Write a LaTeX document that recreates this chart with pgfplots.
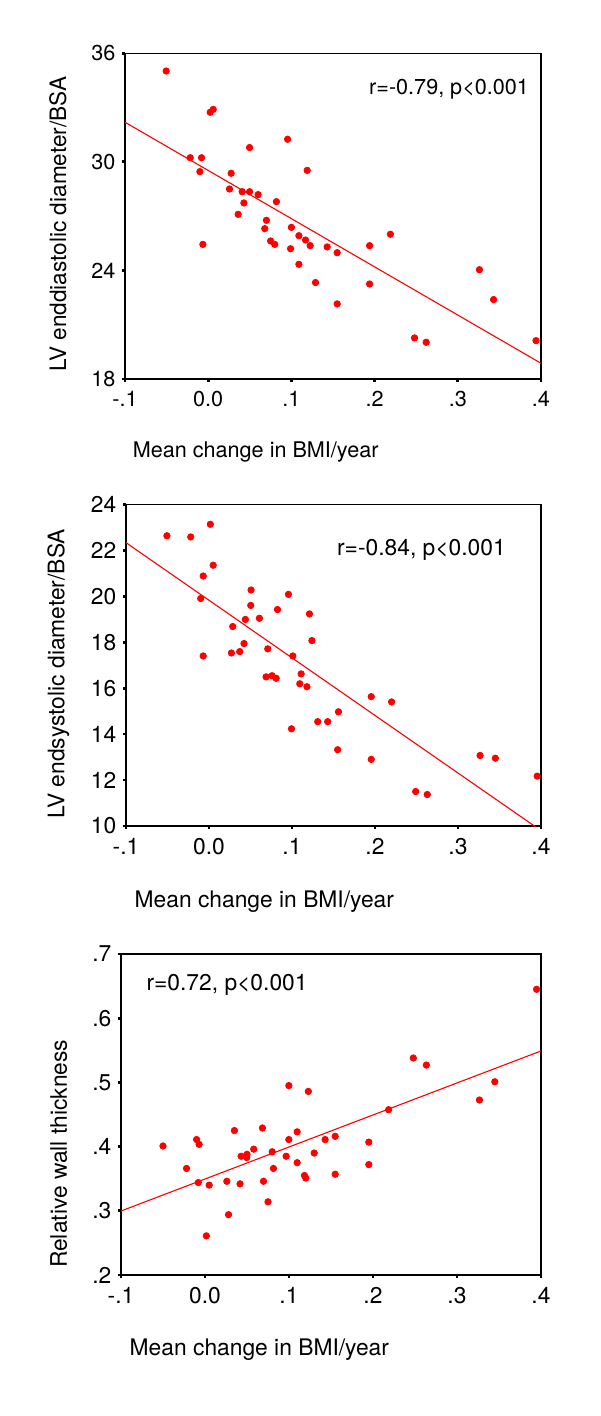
\documentclass[border=0pt]{standalone}
\usepackage{pgfplots}
\pgfplotsset{compat=1.18}
\usepackage{fontspec}
\setmainfont{TeX Gyre Heros}
\definecolor{pred}{RGB}{255,0,0}
\pgfplotsset{
  spss/.style={
    scale only axis,
    axis line style={black, line width=0.7pt},
    tick align=outside,
    xtick pos=left, ytick pos=left,
    major tick length=1.3pt,
    every tick/.style={black, line width=1.4pt},
    xmin=-0.1, xmax=0.4,
    xtick={-0.1,0,0.1,0.2,0.3,0.4},
    xticklabels={-.1,0.0,.1,.2,.3,.4},
    xticklabel style={yshift=-1.5pt},
    clip mode=individual,
    /pgf/number format/assume math mode=true,
  },
  dots/.style={only marks, mark=*, mark size=1.6pt, color=pred, mark options={draw=pred, fill=pred}},
  fit/.style={no marks, color=pred, line width=0.55pt},
}
\begin{document}
\begin{tikzpicture}
\useasboundingbox (0,0) rectangle (300pt,-708pt);

% Panel 1
\begin{axis}[spss,
  at={(62.5pt,-189.5pt)}, anchor=south west,
  width=208pt, height=162.85pt,
  font=\fontsize{10.8}{13}\selectfont,
  ymin=18, ymax=36, ytick={18,24,30,36}, yticklabels={18,24,30,36},
  xlabel={Mean change in BMI/year},
  xlabel style={at={(axis description cs:0.002,-0.223)}, anchor=west},
  ylabel={LV enddiastolic diameter/BSA},
  ylabel style={at={(axis description cs:-0.161,0)}, anchor=west, font=\fontsize{11.3}{13}\selectfont},
]
\addplot[dots] coordinates {
(-0.0505,35.02) (0.0024,32.74) (0.006,32.90) (-0.0216,30.23) (-0.008,30.23)
(-0.010,29.46) (0.0497,30.79) (0.0954,31.25) (0.119,29.53) (0.0276,29.37)
(0.0256,28.50) (0.0409,28.35) (0.0497,28.35) (0.060,28.19) (0.0429,27.73)
(0.082,27.80) (0.036,27.10) (-0.0064,25.44) (0.070,26.77) (0.068,26.31)
(0.100,26.38) (0.075,25.63) (0.080,25.44) (0.109,25.92) (0.117,25.68)
(0.1226,25.37) (0.099,25.20) (0.143,25.30) (0.155,24.98) (0.194,25.37)
(0.219,26.00) (0.109,24.34) (0.129,23.33) (0.194,23.25) (0.155,22.15)
(0.326,24.04) (0.343,22.39) (0.248,20.27) (0.262,20.03) (0.394,20.12)
};
\addplot[fit] coordinates {(-0.1,32.19) (0.4,18.87)};
\node[anchor=east, font=\fontsize{10.8}{13}\selectfont] at (rel axis cs:0.988,0.889) {r=-0.79, p<0.001};
\end{axis}

% Panel 2
\begin{axis}[spss,
  at={(63pt,-413pt)}, anchor=south west,
  width=207.5pt, height=160.85pt,
  font=\fontsize{11.4}{13}\selectfont,
  ymin=10, ymax=24, ytick={10,12,14,16,18,20,22,24}, yticklabels={10,12,14,16,18,20,22,24},
  xlabel={Mean change in BMI/year},
  xlabel style={at={(axis description cs:0.004,-0.235)}, anchor=west},
  ylabel={LV endsystolic diameter/BSA},
  ylabel style={at={(axis description cs:-0.163,0)}, anchor=west},
]
\addplot[dots] coordinates {
(-0.0507,22.63) (-0.022,22.58) (0.0016,23.13) (0.005,21.35) (-0.007,20.88)
(-0.010,19.90) (-0.007,17.40) (0.0507,20.27) (0.0503,19.60) (0.0957,20.08)
(0.0825,19.42) (0.121,19.23) (0.0438,18.99) (0.0607,19.04) (0.0286,18.68)
(0.0422,17.94) (0.027,17.53) (0.037,17.59) (0.0708,17.71) (0.124,18.07)
(0.101,17.40) (0.0688,16.49) (0.076,16.54) (0.0809,16.43) (0.111,16.62)
(0.1094,16.19) (0.118,16.06) (0.1955,15.63) (0.220,15.40) (0.156,14.97)
(0.131,14.54) (0.143,14.54) (0.0994,14.23) (0.155,13.32) (0.1955,12.90)
(0.3266,13.07) (0.345,12.95) (0.3954,12.17) (0.249,11.50) (0.263,11.37)
};
\addplot[fit] coordinates {(-0.1,22.33) (0.4,9.80)};
\node[anchor=east] at (rel axis cs:0.932,0.858) {r=-0.84, p<0.001};
\end{axis}

% Panel 3
\begin{axis}[spss,
  at={(60.5pt,-637.5pt)}, anchor=south west,
  width=210pt, height=160.5pt,
  font=\fontsize{11.4}{13}\selectfont,
  ymin=0.2, ymax=0.7, ytick={0.2,0.3,0.4,0.5,0.6,0.7}, yticklabels={.2,.3,.4,.5,.6,.7},
  xlabel={Mean change in BMI/year},
  xlabel style={at={(axis description cs:0.004,-0.234)}, anchor=west},
  ylabel={Relative wall thickness},
  ylabel style={at={(axis description cs:-0.148,0)}, anchor=west},
]
\addplot[dots] coordinates {
(-0.050,0.401) (-0.022,0.366) (-0.010,0.411) (-0.007,0.4035) (-0.008,0.344)
(0.0016,0.261) (0.005,0.340) (0.026,0.346) (0.028,0.294) (0.035,0.425)
(0.0417,0.342) (0.043,0.385) (0.050,0.388) (0.0497,0.383) (0.058,0.396)
(0.0684,0.429) (0.0696,0.346) (0.075,0.314) (0.080,0.392) (0.0815,0.366)
(0.0966,0.385) (0.0998,0.495) (0.0998,0.411) (0.1097,0.423) (0.1097,0.375)
(0.1184,0.355) (0.120,0.351) (0.123,0.486) (0.130,0.390) (0.143,0.411)
(0.155,0.416) (0.155,0.357) (0.195,0.407) (0.195,0.372) (0.2186,0.4575)
(0.248,0.538) (0.2635,0.527) (0.3267,0.4726) (0.345,0.501) (0.3947,0.645)
};
\addplot[fit] coordinates {(-0.1,0.2997) (0.4,0.549)};
\node[anchor=west] at (rel axis cs:0.044,0.903) {r=0.72, p<0.001};
\end{axis}
\end{tikzpicture}
\end{document}
